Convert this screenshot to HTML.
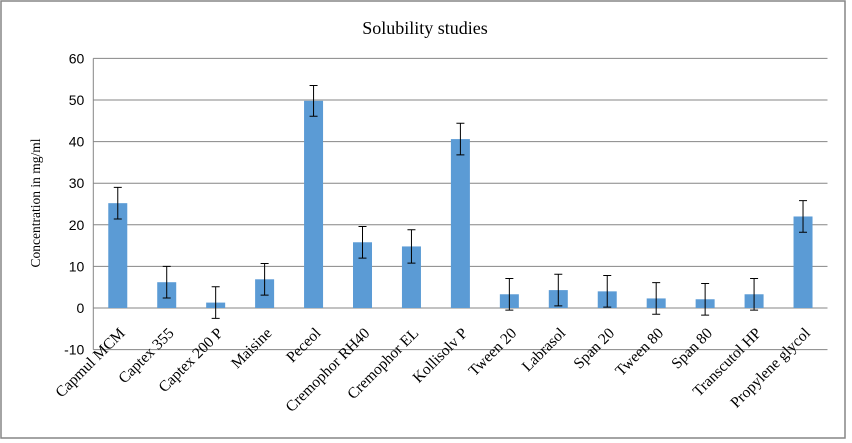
<!DOCTYPE html>
<html><head><meta charset="utf-8"><style>
body{margin:0;background:#fff;}
svg{display:block;font-family:"Liberation Sans",sans-serif;}
</style></head><body>
<svg id="chart" width="852" height="443">
<rect x="1" y="1" width="844" height="437" fill="#fff" stroke="#868686" stroke-width="1.5"/>
<text x="425" y="34" text-anchor="middle" font-family="Liberation Serif, serif" font-size="18">Solubility studies</text>
<text transform="translate(40,203) rotate(-90)" text-anchor="middle" font-family="Liberation Serif, serif" font-size="13.5">Concentration in mg/ml</text>
<g id="grid"></g><g id="bars"></g><g id="errs"></g><g id="labels"></g>
</svg>
<script>
const categories=["Capmul MCM","Captex 355","Captex 200 P","Maisine","Peceol","Cremophor RH40","Cremophor EL","Kollisolv P","Tween 20","Labrasol","Span 20","Tween 80","Span 80","Transcutol HP","Propylene glycol"];
const values=[25.2,6.2,1.3,6.9,49.8,15.8,14.8,40.6,3.3,4.3,4.0,2.3,2.1,3.3,22.0];
const errors=[3.8,3.8,3.8,3.8,3.7,3.8,4.0,3.8,3.8,3.8,3.8,3.8,3.8,3.8,3.8];
const ticks=[-10,0,10,20,30,40,50,60];
const NS="http://www.w3.org/2000/svg";
const L=93.3,R=827.5,Y0=308,K=4.16;
const y=v=>Y0-v*K;
const bw=(R-L)/categories.length;
const x=i=>L+bw*(i+0.5);
function mk(t,a,p){const e=document.createElementNS(NS,t);for(const k in a)e.setAttribute(k,a[k]);document.getElementById(p).appendChild(e);return e;}
ticks.forEach(t=>{
  const g=mk('line',{x1:L,x2:R,y1:y(t),y2:y(t),stroke:'#868686','stroke-width':1},'grid');
  
  
  const tx=mk('text',{x:L-9,y:y(t)+5,'text-anchor':'end','font-size':14},'grid');
  tx.textContent=t;
  
  
});
const ax=mk('line',{x1:L,x2:L,y1:y(60),y2:y(-10),stroke:'#868686','stroke-width':1},'grid');


categories.forEach((c,i)=>{
  const v=values[i],cx=x(i);
  const b=mk('rect',{x:cx-9.5,width:19,y:Math.min(y(v),Y0),height:Math.abs(y(v)-Y0),fill:'#5b9bd5'},'bars');
  
  
  const e=errors[i];
  const p=mk('path',{d:`M${cx},${y(v+e)}V${y(v-e)}M${cx-4},${y(v+e)}H${cx+4}M${cx-4},${y(v-e)}H${cx+4}`,stroke:'#000','stroke-width':1,fill:'none'},'errs');
  
  
  const t=mk('text',{transform:`translate(${cx+8},334) rotate(-45)`,'text-anchor':'end','font-size':15.5,'font-family':'Liberation Serif, serif'},'labels');
  t.textContent=c;
  
  
});
</script>
</body></html>
